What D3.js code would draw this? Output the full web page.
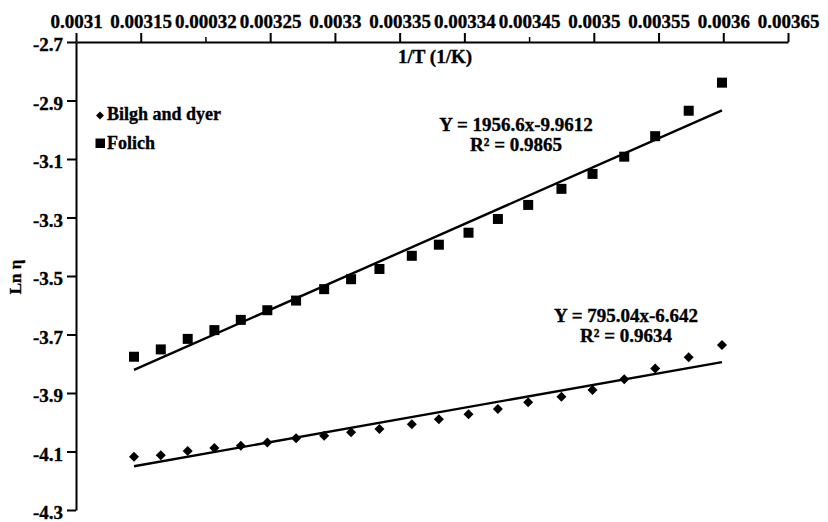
<!DOCTYPE html>
<html lang="en">
<head>
    <meta charset="UTF-8">
    <title>Ln viscosity vs 1/T</title>
    <script src="https://d3js.org/d3.v7.min.js"></script>
    <style>
        body {
            margin: 0;
            background: #fff;
        }
        svg text {
            font-family: "Liberation Serif", "Times New Roman", serif;
            font-weight: bold;
            fill: #000;
            stroke: #000;
            stroke-width: 0.35px;
        }
    </style>
</head>
<body>
    <div id="chart"></div>

    <script>
        // 1/T values (1/K)
        const invT = [0.0031448, 0.0031655, 0.0031863, 0.0032069, 0.0032273, 0.0032478, 0.0032700,
                      0.0032917, 0.0033125, 0.0033344, 0.0033594, 0.0033803, 0.0034032, 0.0034259,
                      0.0034493, 0.0034750, 0.0034990, 0.0035235, 0.0035474, 0.0035733, 0.0035990];
        const bilgh = [-4.118, -4.113, -4.098, -4.088, -4.080, -4.069, -4.055, -4.046, -4.034, -4.023,
                       -4.007, -3.990, -3.973, -3.955, -3.932, -3.913, -3.890, -3.853, -3.816, -3.778, -3.736];
        const folich = [-3.776, -3.751, -3.715, -3.685, -3.650, -3.617, -3.584, -3.545, -3.511, -3.476,
                        -3.431, -3.393, -3.352, -3.305, -3.257, -3.202, -3.151, -3.092, -3.022, -2.935, -2.839];

        const xTicks = [0.0031, 0.00315, 0.0032, 0.00325, 0.0033, 0.00335, 0.0034, 0.00345, 0.0035, 0.00355, 0.0036, 0.00365];
        // labels as printed in the original (including its typos)
        const xTickLabels = ['0.0031', '0.00315', '0.00032', '0.00325', '0.0033', '0.00335', '0.00334',
                             '0.00345', '0.0035', '0.00355', '0.0036', '0.00365'];
        const yTicks = [-2.7, -2.9, -3.1, -3.3, -3.5, -3.7, -3.9, -4.1, -4.3];

        const seriesNames = ['Bilgh and dyer', 'Folich'];
        const equations = [['Y = 795.04x-6.642', 'R\u00b2 = 0.9634'], ['Y = 1956.6x-9.9612', 'R\u00b2 = 0.9865']];

        const width = 828, height = 522;

        const svg = d3.select('#chart')
            .append('svg')
            .attr('width', width)
            .attr('height', height);

        const x = d3.scaleLinear().domain([0.0031, 0.00365]).range([76, 788]);
        const y = d3.scaleLinear().domain([-4.3, -2.7]).range([510, 42]);

        // top x axis
        const xAxis = svg.append('g')
            .attr('transform', `translate(0,${y(-2.7)})`)
            .call(d3.axisTop(x)
                .tickValues(xTicks)
                .tickFormat((d, i) => xTickLabels[i])
                .tickSize(9)
                .tickSizeOuter(0)
                .tickPadding(5));

        // left y axis
        const yAxis = svg.append('g')
            .attr('transform', `translate(${x(0.0031)},0)`)
            .call(d3.axisLeft(y)
                .tickValues(yTicks)
                .tickFormat(d => d.toFixed(1))
                .tickSize(9)
                .tickSizeOuter(0)
                .tickPadding(4));

        [xAxis, yAxis].forEach(g => {
            g.attr('font-size', null).attr('font-family', null);
            g.select('.domain').attr('stroke', '#000').attr('stroke-width', 2);
            g.selectAll('.tick line').attr('stroke', '#000').attr('stroke-width', 2);
            g.selectAll('.tick text')
                .style('font-size', '19px')
                .attr('fill', '#000');
        });
        yAxis.selectAll('.tick text').attr('dy', '0.45em');
        // the two oddly labelled ticks are drawn shorter in the original
        xAxis.selectAll('.tick line').filter((d, i) => i === 2 || i === 7).attr('y2', -5).attr('stroke-width', 1.5);

        // axis titles
        svg.append('text')
            .attr('x', 435)
            .attr('y', 63)
            .attr('text-anchor', 'middle')
            .style('font-size', '19px')
            .text('1/T (1/K)');

        svg.append('text')
            .attr('transform', 'translate(21,277) rotate(-90)')
            .attr('text-anchor', 'middle')
            .style('font-size', '17px')
            .text('Ln \u03b7');

        // simple least squares line for each series
        function fit(xs, ys) {
            const mx = d3.mean(xs), my = d3.mean(ys);
            const b = d3.sum(xs, (v, i) => (v - mx) * (ys[i] - my)) / d3.sum(xs, v => (v - mx) * (v - mx));
            return { b: b, a: my - b * mx };
        }

        const line = d3.line().x(d => x(d[0])).y(d => y(d[1]));
        const xEnds = d3.extent(invT);

        [bilgh, folich].forEach(vals => {
            const f = fit(invT, vals);
            svg.append('path')
                .datum(xEnds.map(v => [v, f.a + f.b * v]))
                .attr('d', line)
                .attr('fill', 'none')
                .attr('stroke', '#000')
                .attr('stroke-width', 2.4);
        });

        // points
        svg.append('g').selectAll('path')
            .data(invT.map((v, i) => [v, bilgh[i]]))
            .enter()
            .append('path')
            .attr('transform', d => `translate(${x(d[0])},${y(d[1])})`)
            .attr('d', d3.symbol().type(d3.symbolDiamond2).size(64))
            .attr('fill', '#000');

        svg.append('g').selectAll('rect')
            .data(invT.map((v, i) => [v, folich[i]]))
            .enter()
            .append('rect')
            .attr('x', d => x(d[0]) - 5)
            .attr('y', d => y(d[1]) - 5)
            .attr('width', 10)
            .attr('height', 10)
            .attr('fill', '#000');

        // trend equations
        const eqPos = [[626, 322], [516, 131]];
        equations.forEach((lines, k) => {
            lines.forEach((t, j) => {
                svg.append('text')
                    .attr('x', eqPos[k][0])
                    .attr('y', eqPos[k][1] + j * 20)
                    .attr('text-anchor', 'middle')
                    .style('font-size', '19px')
                    .text(t);
            });
        });

        // legend
        const legend = svg.append('g').attr('transform', 'translate(100,0)');
        legend.append('path')
            .attr('transform', 'translate(0,115.5)')
            .attr('d', d3.symbol().type(d3.symbolDiamond2).size(40))
            .attr('fill', '#000');
        legend.append('rect')
            .attr('x', -4.5).attr('y', 138.5)
            .attr('width', 9.5).attr('height', 9.5)
            .attr('fill', '#000');
        legend.selectAll('text.lg')
            .data(seriesNames)
            .enter()
            .append('text')
            .attr('class', 'lg')
            .attr('x', 7)
            .attr('y', (d, i) => 119.5 + i * 29)
            .style('font-size', '18px')
            .text(d => d);
    </script>
</body>
</html>
